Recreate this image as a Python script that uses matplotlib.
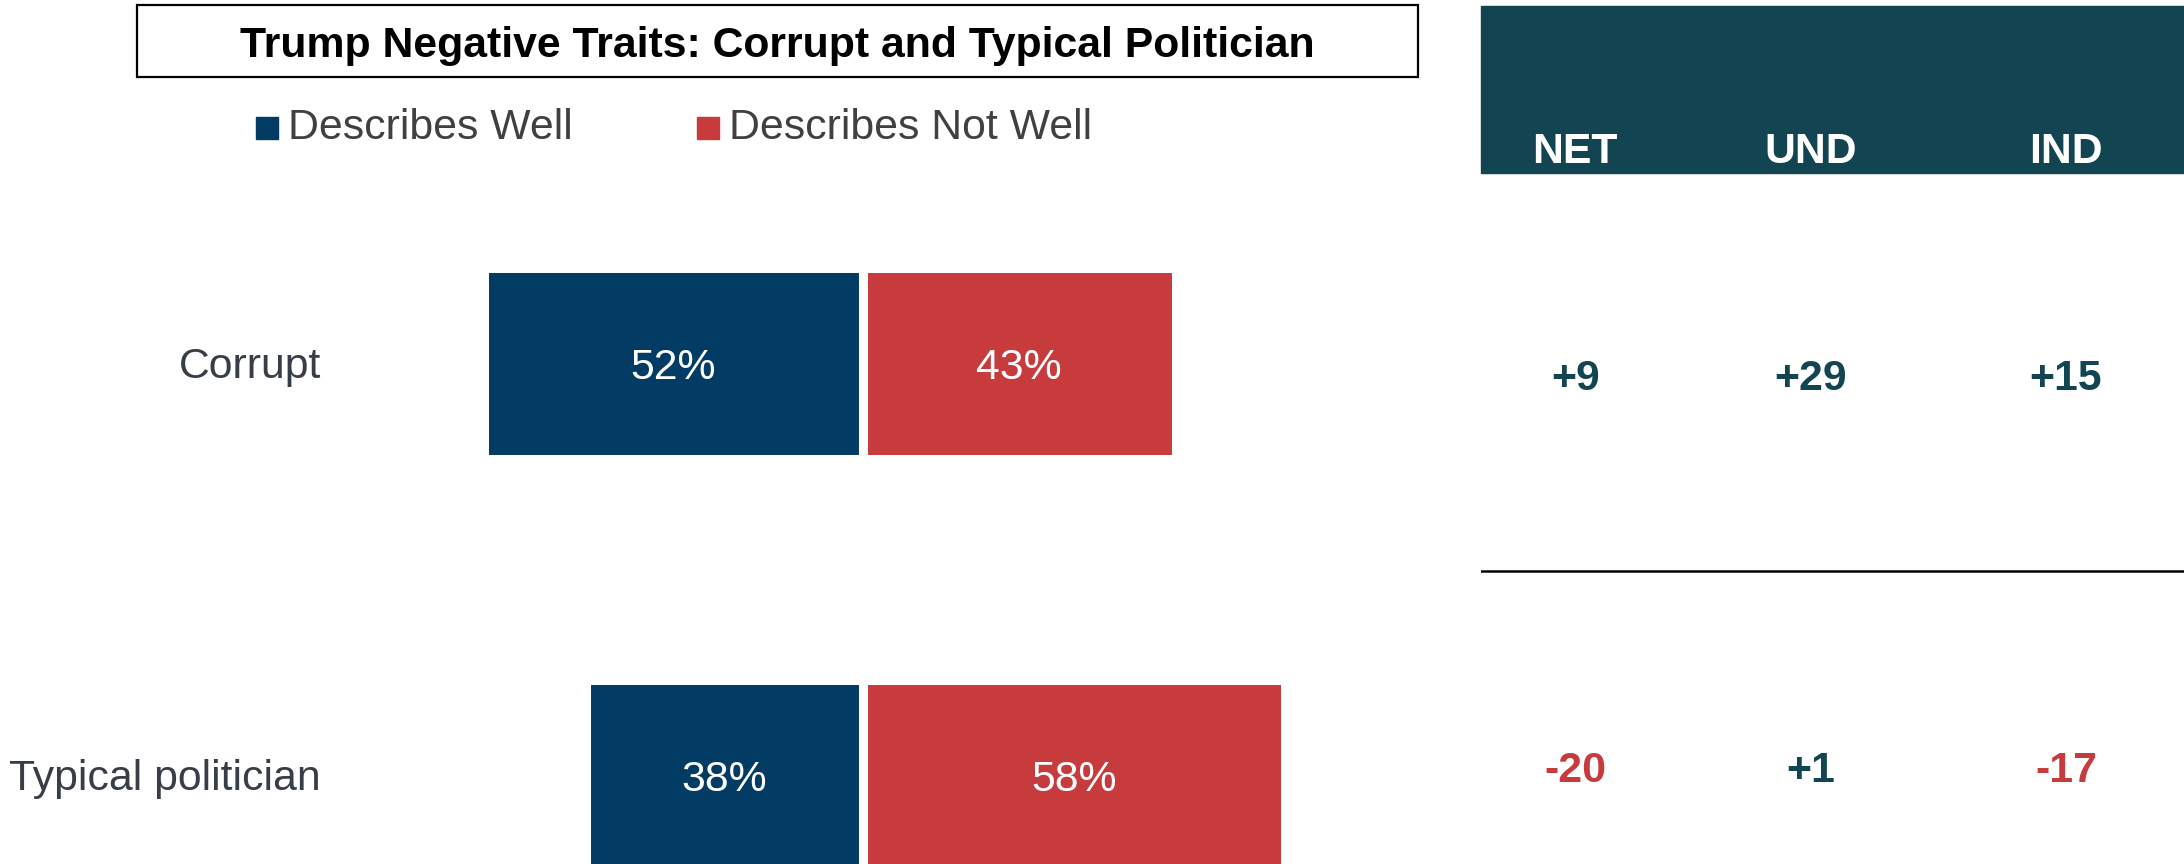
import matplotlib
matplotlib.use("Agg")
import matplotlib.pyplot as plt
from matplotlib.patches import Rectangle
from matplotlib.transforms import blended_transform_factory

plt.rcParams["font.family"] = ["Liberation Sans", "DejaVu Sans"]

# ---- data ----
title = "Trump Negative Traits: Corrupt and Typical Politician"
traits = ["Corrupt", "Typical politician"]
series_names = ["Describes Well", "Describes Not Well"]
describes_well = [52, 38]
describes_not_well = [43, 58]
table_headers = ["NET", "UND", "IND"]
und_net = [29, 1]
ind_net = [15, -17]

# ---- styling ----
BLUE = "#023B63"
RED = "#C83B3C"
TEAL = "#134452"
LABEL_GREY = "#383E48"
LEGEND_GREY = "#404040"
FS = 30.8

W, H = 2184, 864
fig = plt.figure(figsize=(W / 100, H / 100), dpi=100)
fig.patch.set_facecolor("white")


def fx(px):
    return px / W


def fy(py):
    return 1 - py / H


# ---- bar panel ----
LEFT_W = 1481
ZERO_PX = 862.5
PX_PER_PCT = 7.28
ROW0_PX, ROW_STEP = 363, 412

ax = fig.add_axes([0, 0, fx(LEFT_W), 1])
ax.set_xlim(-ZERO_PX / PX_PER_PCT, (LEFT_W - ZERO_PX) / PX_PER_PCT)
ax.set_ylim((H - ROW0_PX) / ROW_STEP, -ROW0_PX / ROW_STEP)
ax.axis("off")

ypos = list(range(len(traits)))
bar_h = 191 / ROW_STEP
ax.barh(ypos, [-v for v in describes_well], height=bar_h, color=BLUE,
        edgecolor="white", linewidth=6.5)
ax.barh(ypos, describes_not_well, height=bar_h, color=RED,
        edgecolor="white", linewidth=6.5)

for i, (w, n) in enumerate(zip(describes_well, describes_not_well)):
    ax.annotate(f"{w}%", xy=(-w / 2, i), xytext=(0, -11.5),
                textcoords="offset points", ha="center", va="baseline",
                color="white", fontsize=FS)
    ax.annotate(f"{n}%", xy=(n / 2, i), xytext=(0, -11.5),
                textcoords="offset points", ha="center", va="baseline",
                color="white", fontsize=FS)

label_tf = blended_transform_factory(fig.transFigure, ax.transData)
for i, t in enumerate(traits):
    ax.annotate(t, xy=(fx(321), i), xycoords=label_tf, xytext=(0, -10.5),
                textcoords="offset points", ha="right", va="baseline",
                color=LABEL_GREY, fontsize=FS)

# ---- title box ----
fig.patches.append(Rectangle((fx(137), fy(77)), (1418 - 137) / W, (77 - 5) / H,
                             transform=fig.transFigure, fill=False,
                             edgecolor="black", linewidth=1.6))
fig.text(fx(777), fy(57), title, ha="center", va="baseline",
         fontsize=FS, fontweight="bold", color="black")

# ---- legend ----
legend_x = [256, 697]
for name, col, x0 in zip(series_names, [BLUE, RED], legend_x):
    fig.patches.append(Rectangle((fx(x0), fy(139)), 22 / W, 22 / H,
                                 transform=fig.transFigure, color=col))
    fig.text(fx(x0 + 32), fy(139), name, ha="left", va="baseline",
             fontsize=FS, color=LEGEND_GREY)

# ---- net table ----
TROW0_PX, TROW_STEP = 375, 392
tax = fig.add_axes([fx(LEFT_W), 0, 1 - fx(LEFT_W), 1])
tax.set_xlim(0, 1)
tax.set_ylim((H - TROW0_PX) / TROW_STEP, -TROW0_PX / TROW_STEP)
tax.axis("off")

tax.add_patch(Rectangle((0, fy(173)), 1, (173 - 6) / H,
                        transform=tax.transAxes, color=TEAL, clip_on=False))
col_x = [0.134, 0.469, 0.832]
for cx, hdr in zip(col_x, table_headers):
    tax.text(cx, fy(163), hdr, transform=tax.transAxes, ha="center",
             va="baseline", fontsize=FS, fontweight="bold", color="white")

net = [w - n for w, n in zip(describes_well, describes_not_well)]
columns = [net, und_net, ind_net]
value_tf = blended_transform_factory(tax.transAxes, tax.transData)
for cx, vals in zip(col_x, columns):
    for i, v in enumerate(vals):
        tax.annotate(f"{v:+d}", xy=(cx, i), xycoords=value_tf,
                     xytext=(0, -11), textcoords="offset points",
                     ha="center", va="baseline", fontsize=FS,
                     fontweight="bold", color=TEAL if v >= 0 else RED)

tax.axhline(0.5, color="black", linewidth=1.8)

fig.savefig("out.png", dpi=100, facecolor="white")
